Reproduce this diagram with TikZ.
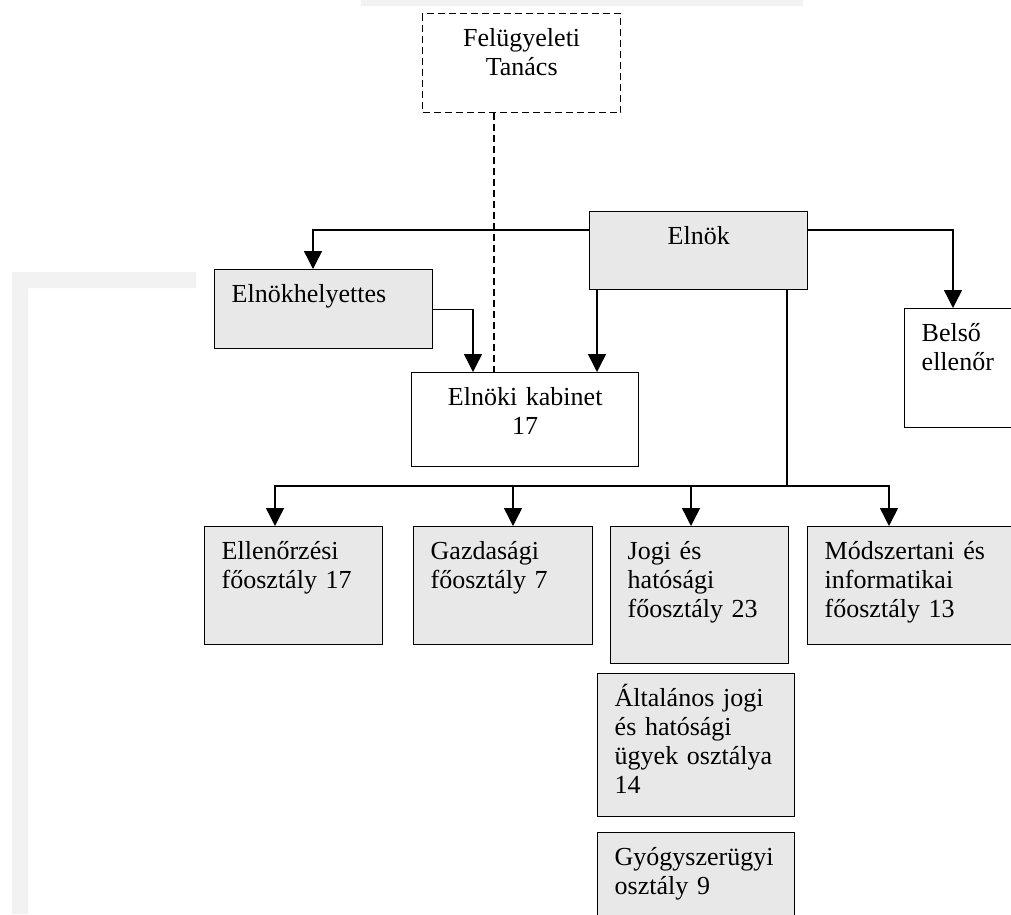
\documentclass[tikz,border=0pt]{standalone}
\usepackage{fontspec}
\setmainfont{Liberation Serif}
\usetikzlibrary{arrows.meta}
\begin{document}
\begin{tikzpicture}[x=1pt,y=-1pt,line width=1.4pt,
    font=\fontsize{26pt}{29pt}\selectfont,
    doboz/.style={draw,anchor=north west,inner xsep=17pt,inner ysep=0pt,text height=33pt,align=left},
    szurke/.style={doboz,fill=black!9},
    szaggatott/.style={dash pattern=on 7pt off 4pt},
    nyil/.style={-{Triangle[length=18pt,width=18pt]}}]
        \useasboundingbox (0,0) rectangle (1011,914);
        \clip (0,0) rectangle (1011,914);
        \fill[black!5] (361,0) rectangle (803,6) (12,272) rectangle (196,288) (12,272) rectangle (28,914);

        \node[doboz,szaggatott,align=center,text width=164pt,text depth=66pt] (felugy) at (422,13) {Felügyeleti\\Tanács};
        \node[szurke,align=center,text width=184pt,text depth=45pt] (elnok) at (589,211) {Elnök};
        \node[szurke,text width=184pt,text depth=46pt] (helyettes) at (214,269) {Elnökhelyettes};
        \node[doboz,align=center,text width=193pt,text depth=61pt] (kabinet) at (411,372) {Elnöki kabinet\\17};
        \node[doboz,text width=116pt,text depth=86pt] (belso) at (904,308) {Belső\\ellenőr};
        \node[szurke,text width=144pt,text depth=85pt] (ellenorzesi) at (204,526) {Ellenőrzési\\főosztály 17};
        \node[szurke,text width=145pt,text depth=85pt] (gazdasagi) at (413,526) {Gazdasági\\főosztály 7};
        \node[szurke,text width=144pt,text depth=104pt] (jogi) at (610,526) {Jogi és\\hatósági\\főosztály 23};
        \node[szurke,text width=186pt,text depth=85pt] (modszer) at (807,526) {Módszertani és\\informatikai\\főosztály 13};
        \node[szurke,text width=163pt,text depth=110pt] (altalanos) at (597,673) {Általános jogi\\és hatósági\\ügyek osztálya\\14};
        \node[szurke,text width=163pt,text depth=67pt] (gyogy) at (597,832) {Gyógyszerügyi\\osztály 9};

        \draw[szaggatott] ([xshift=72pt]felugy.south west) -- ([xshift=83pt]kabinet.north west);
        \draw[nyil] ([yshift=-19pt]elnok.north west) -| ([xshift=99pt]helyettes.north west);
        \draw[nyil] ([yshift=-19pt]elnok.north east) -| ([xshift=49pt]belso.north west);
        \draw[nyil] (helyettes.east) -| ([xshift=62pt]kabinet.north west);
        \draw[nyil] ([xshift=8pt]elnok.south west) -- ([xshift=186pt]kabinet.north west);

        \coordinate (elag) at (787,486);
        \coordinate (c1) at ([xshift=71pt]ellenorzesi.north west);
        \coordinate (c2) at ([xshift=100pt]gazdasagi.north west);
        \coordinate (c3) at ([xshift=81pt]jogi.north west);
        \coordinate (c4) at ([xshift=82pt]modszer.north west);
        \draw (elnok.south -| elag) -- (elag);
        \draw[nyil] (elag) -| (c1);
        \draw[nyil] (elag) -| (c4);
        \draw[nyil] (c2 |- elag) -- (c2);
        \draw[nyil] (c3 |- elag) -- (c3);
\end{tikzpicture}
\end{document}
